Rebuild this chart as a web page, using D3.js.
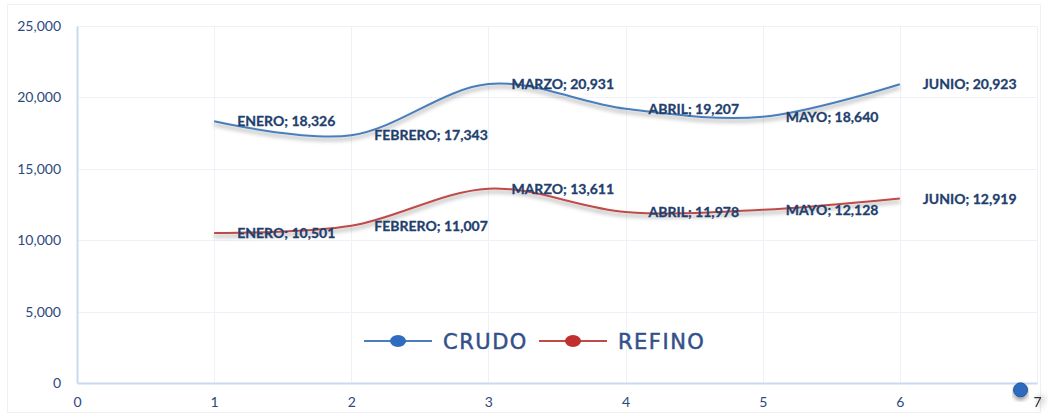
<!DOCTYPE html>
<html>
<head>
<meta charset="utf-8">
<script src="https://cdn.jsdelivr.net/npm/d3@7"></script>
<style>
  html, body { margin: 0; padding: 0; background: #fff; }
  svg { display: block; }
</style>
</head>
<body>
<svg id="chart" width="1048" height="415"></svg>
<script>
// chart values
var months = ["ENERO", "FEBRERO", "MARZO", "ABRIL", "MAYO", "JUNIO"];
var monthIndex = [1, 2, 3, 4, 5, 6];
var crudo = [18326, 17343, 20931, 19207, 18640, 20923];
var refino = [10501, 11007, 13611, 11978, 12128, 12919];
var seriesNames = ["CRUDO", "REFINO"];
var xTicks = [0, 1, 2, 3, 4, 5, 6, 7];
var yTicks = [0, 5000, 10000, 15000, 20000, 25000];
// stray marker left near the x axis end in the original
var strayPoint = [{x: 6.88, y: -480}];

var colors = ["#4a7ebb", "#be4b48"];
var markerColors = ["#2f6bbf", "#c0302e"];

var svg = d3.select("#chart");
var margin = {top: 26, right: 11, bottom: 32, left: 77};
var width = +svg.attr("width") - margin.left - margin.right,
    height = +svg.attr("height") - margin.top - margin.bottom;

var defs = svg.append("defs");
defs.append("filter").attr("id", "shadow")
  .attr("x", "-5%").attr("y", "-30%").attr("width", "110%").attr("height", "160%")
  .append("feDropShadow")
  .attr("dx", 0).attr("dy", 3).attr("stdDeviation", 2)
  .attr("flood-color", "#000").attr("flood-opacity", 0.4);
defs.append("filter").attr("id", "blob")
  .attr("x", "-100%").attr("y", "-100%").attr("width", "300%").attr("height", "300%")
  .append("feDropShadow")
  .attr("dx", 3).attr("dy", 0).attr("stdDeviation", 3)
  .attr("flood-color", "#000").attr("flood-opacity", 0.6);

// outer border
svg.append("rect")
  .attr("x", 7.5).attr("y", 4.5)
  .attr("width", 1033).attr("height", 408)
  .attr("fill", "none").attr("stroke", "#f0f0f0");

var x = d3.scaleLinear().domain([0, 7]).range([0, width]);
var y = d3.scaleLinear().domain([0, 25000]).range([height, 0]);

var g = svg.append("g")
  .attr("transform", "translate(" + margin.left + "," + margin.top + ")");

// grid
g.append("g").selectAll("line")
  .data(yTicks.filter(function(d) { return d > 0; }))
  .enter().append("line")
  .attr("x1", 0).attr("x2", width)
  .attr("y1", function(d) { return Math.round(y(d)) + 0.5; })
  .attr("y2", function(d) { return Math.round(y(d)) + 0.5; })
  .attr("stroke", "#eef2f8");
g.append("g").selectAll("line")
  .data(xTicks.filter(function(d) { return d > 0; }))
  .enter().append("line")
  .attr("x1", function(d) { return Math.round(x(d)) + 0.5; })
  .attr("x2", function(d) { return Math.round(x(d)) + 0.5; })
  .attr("y1", 0).attr("y2", height)
  .attr("stroke", "#eef2f8");

// axes
var yAxis = g.append("g")
  .call(d3.axisLeft(y).tickValues(yTicks).tickSize(0).tickPadding(16)
    .tickFormat(d3.format(",")));
var xAxis = g.append("g")
  .attr("transform", "translate(0," + height + ")")
  .call(d3.axisBottom(x).tickValues(xTicks).tickSize(0).tickPadding(14)
    .tickFormat(d3.format("d")));
[yAxis, xAxis].forEach(function(a) {
  a.select(".domain").attr("stroke", "#c9daf0").attr("stroke-width", 2);
  a.selectAll("text")
    .attr("fill", "#2c4a7c")
    .style("font-family", "Lato, 'Open Sans', sans-serif")
    .style("font-size", "14px");
});
xAxis.selectAll(".tick text")
  .filter(function(d) { return d === 7; })
  .attr("fill", "#333")
  .style("filter", "url(#blob)");

// lines
var line = d3.line()
  .x(function(d) { return x(d.x); })
  .y(function(d) { return y(d.y); })
  .curve(d3.curveCardinal.tension(0));

var seriesData = [crudo, refino].map(function(vals) {
  return vals.map(function(v, i) { return {x: monthIndex[i], y: v, name: months[i]}; });
});

seriesData.forEach(function(data, i) {
  g.append("path")
    .attr("d", line(data))
    .attr("fill", "none")
    .attr("stroke", colors[i])
    .attr("stroke-width", 2)
    .attr("filter", "url(#shadow)");
});

// data labels
seriesData.forEach(function(data) {
  g.append("g").selectAll("text")
    .data(data)
    .enter().append("text")
    .attr("x", function(d) { return x(d.x) + 23; })
    .attr("y", function(d) { return y(d.y); })
    .attr("dy", "0.36em")
    .attr("fill", "#1f3f6e")
    .attr("stroke", "#1f3f6e")
    .attr("stroke-width", 0.3)
    .style("font-family", "Lato, 'Open Sans', sans-serif")
    .style("font-weight", "bold")
    .style("font-size", "14px")
    .text(function(d) { return d.name + "; " + d3.format(",")(d.y); });
});

// stray marker
g.selectAll(".stray")
  .data(strayPoint)
  .enter().append("circle")
  .attr("cx", function(d) { return x(d.x); })
  .attr("cy", function(d) { return y(d.y); })
  .attr("r", 7)
  .attr("fill", markerColors[0])
  .attr("stroke", "#22559c")
  .attr("filter", "url(#shadow)");

// legend
var legend = svg.append("g").attr("transform", "translate(364,341)");
var legendX = [0, 175];
seriesNames.forEach(function(name, i) {
  var item = legend.append("g").attr("transform", "translate(" + legendX[i] + ",0)");
  item.append("line")
    .attr("x1", 0).attr("x2", 68).attr("y1", 0).attr("y2", 0)
    .attr("stroke", colors[i]).attr("stroke-width", 2);
  item.append("ellipse")
    .attr("cx", 34).attr("cy", 0).attr("rx", 8).attr("ry", 6)
    .attr("fill", markerColors[i]);
  item.append("text")
    .attr("x", 79).attr("y", 0).attr("dy", "0.36em")
    .attr("fill", "#34508a")
    .attr("stroke", "#34508a")
    .attr("stroke-width", 0.5)
    .style("font-family", "'DejaVu Sans', sans-serif")
    .style("font-size", "21px")
    .style("letter-spacing", "1.5px")
    .text(name);
});
</script>
</body>
</html>
